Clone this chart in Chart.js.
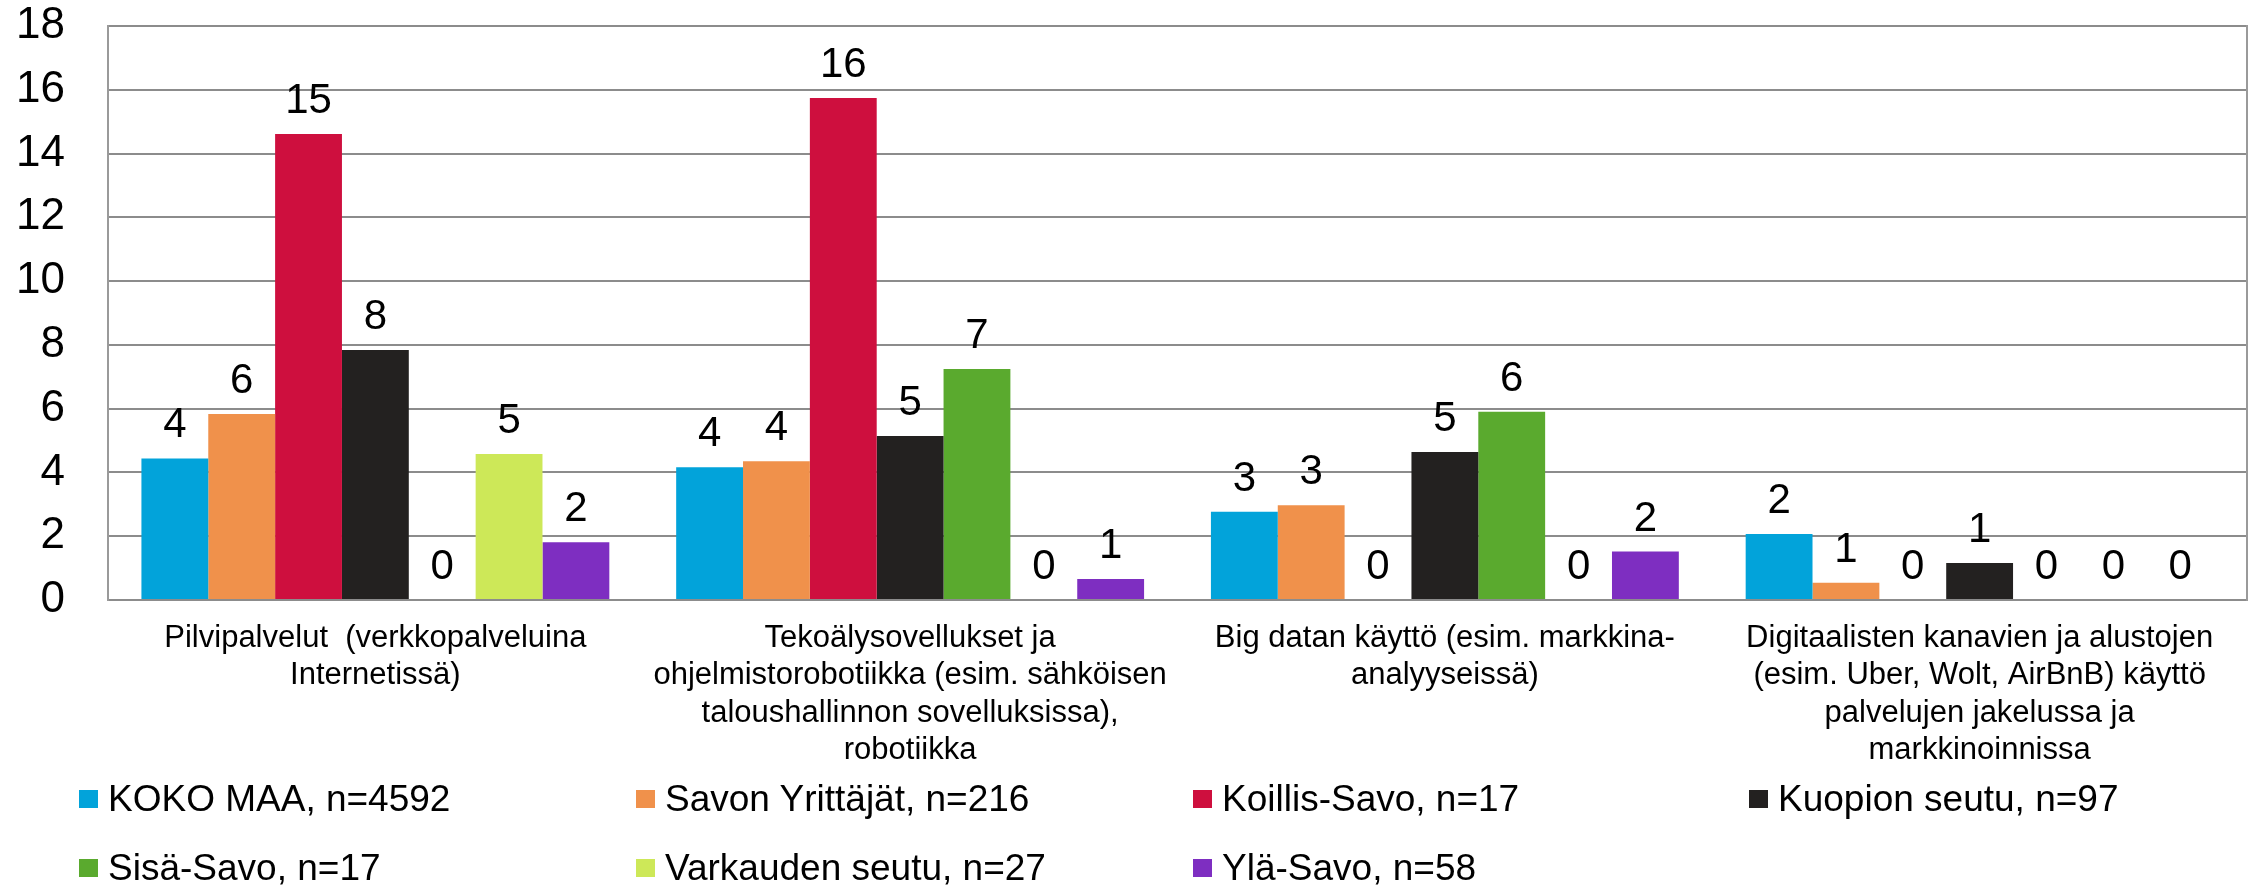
<!DOCTYPE html>
<html><head><meta charset="utf-8">
<script src="https://cdn.jsdelivr.net/npm/chart.js@4/dist/chart.umd.min.js"></script>
<style>
html,body{margin:0;padding:0;background:#fff;}
#wrap{position:relative;width:2257px;height:887px;overflow:hidden;}
#legend{position:absolute;left:0;top:0;width:100%;height:100%;pointer-events:none;font-family:'Liberation Sans',Arial,sans-serif;font-size:37px;color:#000;}
.li{position:absolute;display:flex;align-items:center;white-space:nowrap;transform:translateY(-50%);}
.box{width:19px;height:18px;margin-right:10px;flex:none;}
</style></head>
<body><div id="wrap"><canvas id="c" width="2257" height="887"></canvas><div id="legend"></div></div>
<script>
const categories = [
  ["Pilvipalvelut  (verkkopalveluina", "Internetissä)"],
  ["Tekoälysovellukset ja", "ohjelmistorobotiikka (esim. sähköisen", "taloushallinnon sovelluksissa),", "robotiikka"],
  ["Big datan käyttö (esim. markkina-", "analyyseissä)"],
  ["Digitaalisten kanavien ja alustojen", "(esim. Uber, Wolt, AirBnB) käyttö", "palvelujen jakelussa ja", "markkinoinnissa"]
];
const seriesNames = ["KOKO MAA, n=4592", "Savon Yrittäjät, n=216", "Koillis-Savo, n=17", "Kuopion seutu, n=97", "Sisä-Savo, n=17", "Varkauden seutu, n=27", "Ylä-Savo, n=58"];
const kokoMaa        = [4.44, 4.16, 2.77, 2.07];
const savonYrittajat = [5.83, 4.35, 2.97, 0.54];
const koillisSavo    = [14.61, 15.74, 0, 0];
const kuopionSeutu   = [7.84, 5.14, 4.64, 1.16];
const sisaSavo       = [0, 7.24, 5.90, 0];
const varkaudenSeutu = [4.58, 0, 0, 0];
const ylaSavo        = [1.81, 0.66, 1.52, 0];
const seriesColors = ["#02A3DA", "#F0914B", "#CE0F3E", "#232120", "#5AAA2E", "#CDE858", "#7E2EC1"];
const yMin = 0, yMax = 18, yStep = 2;

const seriesValues = [kokoMaa, savonYrittajat, koillisSavo, kuopionSeutu, sisaSavo, varkaudenSeutu, ylaSavo];
const FONT = "'Liberation Sans', Arial, sans-serif";

const valueLabels = {
  id: 'valueLabels',
  afterDatasetsDraw(chart) {
    const ctx = chart.ctx;
    ctx.save();
    ctx.font = '42px ' + FONT;
    ctx.fillStyle = '#000';
    ctx.textAlign = 'center';
    ctx.textBaseline = 'alphabetic';
    chart.data.datasets.forEach((ds, i) => {
      const meta = chart.getDatasetMeta(i);
      meta.data.forEach((bar, j) => {
        const v = ds.data[j];
        ctx.fillText(String(Math.round(v)), bar.x, bar.y - 21);
      });
    });
    ctx.restore();
  }
};

const htmlLegend = {
  id: 'htmlLegend',
  afterUpdate(chart) {
    const el = document.getElementById('legend');
    el.innerHTML = '';
    const cols = [79, 636, 1193, 1749];
    const rows = [799, 868];
    const items = chart.options.plugins.legend.labels.generateLabels(chart);
    items.forEach((it, k) => {
      const d = document.createElement('div');
      d.className = 'li';
      d.style.left = cols[k % 4] + 'px';
      d.style.top = rows[Math.floor(k / 4)] + 'px';
      const b = document.createElement('span');
      b.className = 'box';
      b.style.background = it.fillStyle;
      const t = document.createElement('span');
      t.textContent = it.text;
      d.appendChild(b); d.appendChild(t);
      el.appendChild(d);
    });
  }
};

new Chart(document.getElementById('c'), {
  type: 'bar',
  data: {
    labels: categories,
    datasets: seriesNames.map((n, i) => ({
      label: n,
      data: seriesValues[i],
      backgroundColor: seriesColors[i],
      borderWidth: 0,
      categoryPercentage: 0.875,
      barPercentage: 1.0
    }))
  },
  options: {
    responsive: false,
    devicePixelRatio: 1,
    animation: false,
    layout: { padding: { left: 16, right: 10, top: 0, bottom: 0 } },
    plugins: { legend: { display: false }, tooltip: { enabled: false } },
    scales: {
      x: {
        grid: { display: false, drawTicks: false },
        border: { display: true, color: '#8c8c8c', width: 2 },
        ticks: { color: '#000', padding: 20, maxRotation: 0, autoSkip: false, font: { family: FONT, size: 31, lineHeight: 1.2 } },
        afterFit(s) { s.paddingLeft = 0; s.paddingRight = 0; s.height = 287; }
      },
      y: {
        min: yMin, max: yMax,
        grid: { color: '#8c8c8c', lineWidth: 2, drawTicks: false },
        border: { display: true, color: '#9a9a9a', width: 2 },
        ticks: { stepSize: yStep, color: '#000', padding: 43, font: { family: FONT, size: 44, lineHeight: 1.2 } },
        afterFit(s) { s.width = 92; s.paddingTop = 26; s.paddingBottom = 0; s.paddingLeft = 0; s.paddingRight = 0; }
      },
      y2: {
        position: 'right', min: yMin, max: yMax,
        grid: { display: false, drawTicks: false },
        border: { display: true, color: '#9a9a9a', width: 2 },
        ticks: { display: false },
        afterFit(s) { s.width = 0; s.paddingTop = 26; s.paddingBottom = 0; s.paddingLeft = 0; s.paddingRight = 0; }
      }
    }
  },
  plugins: [valueLabels, htmlLegend]
});
</script>
</body></html>
